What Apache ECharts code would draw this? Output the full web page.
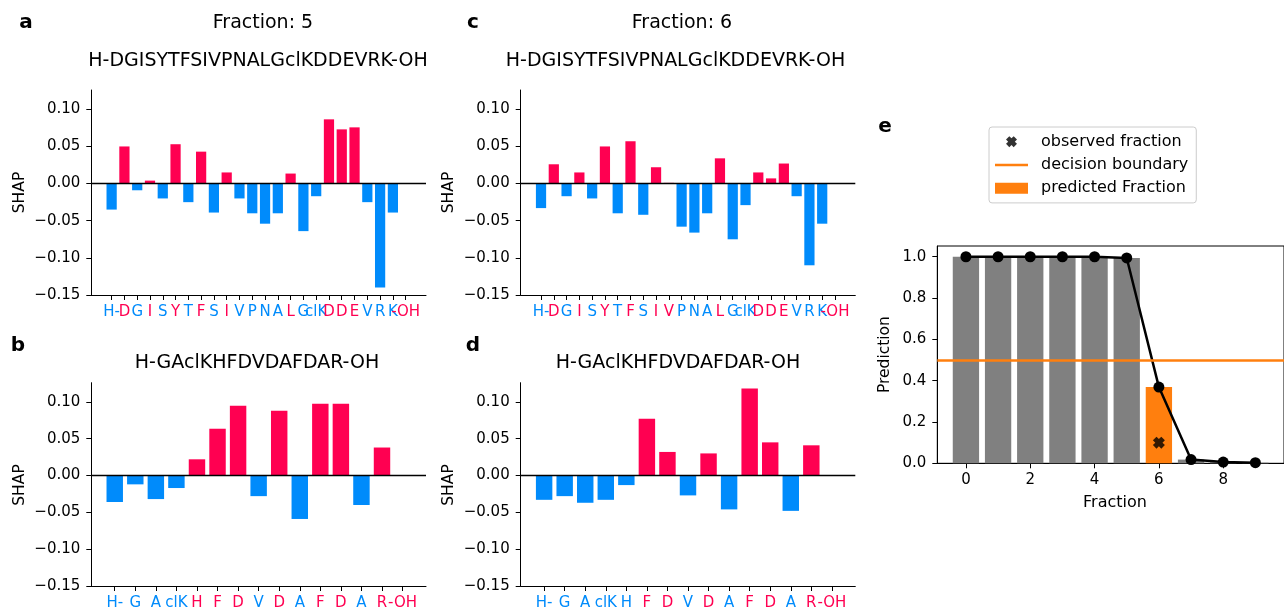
<!DOCTYPE html>
<html>
<head>
<meta charset="utf-8">
<script src="https://cdn.jsdelivr.net/npm/echarts@6/dist/echarts.min.js"></script>
<style>
html, body { margin: 0; padding: 0; background: #fff; }
#chart { width: 1284px; height: 611px; }
</style>
</head>
<body>
<div id="chart"></div>
<script>
// peptide 1: H-DGISYTFSIVPNALGclKDDEVRK-OH
const pep1Labels = ['H-', 'D', 'G', 'I', 'S', 'Y', 'T', 'F', 'S', 'I', 'V', 'P', 'N', 'A', 'L', 'G', 'clK', 'D', 'D', 'E', 'V', 'R', 'K', '-OH'];
const shapPep1Frac5 = [-0.035, 0.050, -0.009, 0.004, -0.020, 0.053, -0.025, 0.043, -0.039, 0.015, -0.020, -0.040, -0.054, -0.040, 0.0135, -0.064, -0.017, 0.0865, 0.073, 0.0757, -0.025, -0.140, -0.039, 0];
const shapPep1Frac6 = [-0.033, 0.026, -0.017, 0.015, -0.020, 0.050, -0.040, 0.057, -0.042, 0.022, 0.001, -0.058, -0.066, -0.040, 0.034, -0.075, -0.029, 0.015, 0.007, 0.027, -0.017, -0.110, -0.054, 0];
// peptide 2: H-GAclKHFDVDAFDAR-OH
const pep2Labels = ['H-', 'G', 'A', 'clK', 'H', 'F', 'D', 'V', 'D', 'A', 'F', 'D', 'A', 'R', '-OH'];
const shapPep2Frac5 = [-0.036, -0.012, -0.032, -0.017, 0.022, 0.0635, 0.0946, -0.028, 0.0878, -0.059, 0.0973, 0.0973, -0.040, 0.038, 0];
const shapPep2Frac6 = [-0.033, -0.028, -0.037, -0.033, -0.013, 0.077, 0.032, -0.027, 0.030, -0.046, 0.118, 0.045, -0.048, 0.041, 0];
const shapTicks = [-0.15, -0.10, -0.05, 0, 0.05, 0.10];
const shapMin = -0.15, shapMax = 0.126;

// panel e
const fractions = [0, 1, 2, 3, 4, 5, 6, 7, 8, 9];
const predictions = [1.0, 1.0, 1.0, 1.0, 1.0, 0.994, 0.369, 0.018, 0.006, 0.003];
const predictedFraction = 6;
const observedFraction = 6;
const observedMarkerY = 0.1;
const decisionBoundary = 0.5;
const fracTicks = [0, 2, 4, 6, 8];
const predTicks = [0, 0.2, 0.4, 0.6, 0.8, 1.0];

const RED = '#ff0051', BLUE = '#008bfb', GRAY = '#808080', ORANGE = '#ff7f0e';
const FONT = 'DejaVu Sans';
const XPATH = 'path://M3,0L5,2L7,0L10,3L8,5L10,7L7,10L5,8L3,10L0,7L2,5L0,3Z';

const chart = echarts.init(document.getElementById('chart'));

const panels = [
    { labels: pep1Labels, values: shapPep1Frac5, left: 91.3, top: 90, width: 334.7, height: 205 },
    { labels: pep2Labels, values: shapPep2Frac5, left: 91.3, top: 382.7, width: 334.7, height: 204.6 },
    { labels: pep1Labels, values: shapPep1Frac6, left: 520.7, top: 90, width: 334.6, height: 205 },
    { labels: pep2Labels, values: shapPep2Frac6, left: 520.7, top: 382.7, width: 334.6, height: 204.6 }
];

const minus = v => v.replace('-', '\u2212');
const grids = [], xAxes = [], yAxes = [], series = [];

// residue labels are split over two axes (even / odd positions) so that
// echarts does not drop the neighbours of the first and last labels
const labelAxis = (p, k, idx, showLine, xmin, xmax) => ({
    gridIndex: k, type: 'value', position: 'bottom', min: xmin, max: xmax,
    axisLine: { show: showLine, onZero: false, lineStyle: { color: '#000', width: 1 } },
    axisTick: { show: true, length: 5, customValues: idx, lineStyle: { color: '#000' } },
    splitLine: { show: false },
    axisLabel: {
        customValues: idx, margin: 10, showMinLabel: true, showMaxLabel: true, hideOverlap: false,
        formatter: v => {
            const i = Math.round(v);
            return '{' + (p.values[i] >= 0 ? 'r' : 'b') + '|' + p.labels[i] + '}';
        },
        rich: {
            r: { color: RED, fontSize: 15, fontFamily: FONT },
            b: { color: BLUE, fontSize: 15, fontFamily: FONT }
        }
    }
});

panels.forEach((p, k) => {
    const n = p.values.length;
    const xmin = -0.4 - 0.05 * (n - 0.2);
    const xmax = n - 0.6 + 0.05 * (n - 0.2);
    const even = p.values.map((v, i) => i).filter(i => i % 2 === 0);
    const odd = p.values.map((v, i) => i).filter(i => i % 2 === 1);
    grids.push({ left: p.left, top: p.top, width: p.width, height: p.height });
    xAxes.push(labelAxis(p, k, even, true, xmin, xmax));
    yAxes.push({
        gridIndex: k, type: 'value', min: shapMin, max: shapMax,
        axisLine: { show: true, onZero: false, lineStyle: { color: '#000', width: 1 } },
        axisTick: { show: true, length: 5, customValues: shapTicks, lineStyle: { color: '#000' } },
        splitLine: { show: false },
        axisLabel: {
            customValues: shapTicks, margin: 11, color: '#000', fontSize: 15, fontFamily: FONT,
            formatter: v => minus(v.toFixed(2))
        }
    });
    series.push({
        type: 'bar', xAxisIndex: k, yAxisIndex: k,
        data: p.values.map((v, i) => [i, v]),
        barWidth: p.width / (xmax - xmin) * 0.8,
        itemStyle: { color: q => (q.value[1] >= 0 ? RED : BLUE) },
        markLine: {
            silent: true, symbol: 'none', label: { show: false },
            lineStyle: { color: '#000', width: 1.3, type: 'solid' },
            data: [{ yAxis: 0 }]
        }
    });
    p.odd = odd; p.xmin = xmin; p.xmax = xmax;
});

// panel e
const ex = { left: 937.3, top: 246, width: 354.7, height: 217.3 };
const nf = fractions.length;
const exMin = -0.4 - 0.05 * (nf - 0.2), exMax = nf - 0.6 + 0.05 * (nf - 0.2);
grids.push(Object.assign({ show: true, borderColor: '#000', borderWidth: 1 }, ex));
xAxes.push({
    gridIndex: 4, type: 'value', min: exMin, max: exMax,
    axisLine: { show: true, onZero: false, lineStyle: { color: '#000' } },
    axisTick: { show: true, length: 5, customValues: fracTicks, lineStyle: { color: '#000' } },
    splitLine: { show: false },
    axisLabel: { customValues: fracTicks, margin: 9, color: '#000', fontSize: 15, fontFamily: FONT }
});
yAxes.push({
    gridIndex: 4, type: 'value', min: 0, max: 1.052,
    axisLine: { show: true, onZero: false, lineStyle: { color: '#000' } },
    axisTick: { show: true, length: 5, customValues: predTicks, lineStyle: { color: '#000' } },
    splitLine: { show: false },
    axisLabel: { customValues: predTicks, margin: 11, color: '#000', fontSize: 15, fontFamily: FONT, formatter: v => v.toFixed(1) }
});

// second label axes (odd positions), indices 5..8
panels.forEach((p, k) => {
    xAxes.push(labelAxis(p, k, p.odd, false, p.xmin, p.xmax));
});

series.push({
    name: 'predicted Fraction', type: 'bar', xAxisIndex: 4, yAxisIndex: 4, z: 2,
    color: ORANGE,
    barWidth: ex.width / (exMax - exMin) * 0.8,
    data: fractions.map((f, i) => ({ value: [f, predictions[i]], itemStyle: { color: f === predictedFraction ? ORANGE : GRAY } }))
});
series.push({
    name: 'decision boundary', type: 'line', xAxisIndex: 4, yAxisIndex: 4, z: 3,
    color: ORANGE, data: [],
    markLine: {
        silent: true, symbol: 'none', label: { show: false },
        lineStyle: { color: ORANGE, width: 2.5, type: 'solid' },
        data: [{ yAxis: decisionBoundary }]
    }
});
series.push({
    name: 'probability', type: 'line', xAxisIndex: 4, yAxisIndex: 4, z: 4,
    data: fractions.map((f, i) => [f, predictions[i]]),
    symbol: 'circle', symbolSize: 11, showAllSymbol: true,
    lineStyle: { color: '#000', width: 2.5 }, itemStyle: { color: '#000' }
});
series.push({
    name: 'observed fraction', type: 'scatter', xAxisIndex: 4, yAxisIndex: 4, z: 5,
    color: '#000', symbol: XPATH, symbolSize: 12,
    data: [[observedFraction, observedMarkerY]]
});

const txt = (text, x, y, size, opts) => Object.assign({
    type: 'text', x: x, y: y,
    style: { text: text, fontSize: size, fontFamily: FONT, fill: '#000', textAlign: 'center', textVerticalAlign: 'middle' }
}, opts || {});
const bold = (text, x, y) => {
    const t = txt(text, x, y, 20);
    t.style.fontWeight = 'bold';
    return t;
};
const rot = (text, x, y) => Object.assign(txt(text, x, y, 15.5), { rotation: Math.PI / 2 });

chart.setOption({
    animation: false,
    backgroundColor: '#fff',
    grid: grids,
    xAxis: xAxes,
    yAxis: yAxes,
    series: series,
    legend: {
        orient: 'vertical', left: 989, top: 127,
        backgroundColor: '#fff', borderColor: '#cccccc', borderWidth: 1, borderRadius: 3,
        padding: [6, 8, 6, 6], itemWidth: 33, itemHeight: 11, itemGap: 6,
        textStyle: { fontFamily: FONT, fontSize: 16, color: '#000', padding: [0, 0, 0, 8], lineHeight: 17.3 },
        data: [
            { name: 'observed fraction', icon: XPATH },
            { name: 'decision boundary', icon: 'path://M0,0H33V2.5H0Z' },
            { name: 'predicted Fraction', icon: 'rect', itemStyle: { color: ORANGE } }
        ]
    },
    graphic: [
        bold('a', 26, 23), bold('b', 18, 346), bold('c', 473, 23), bold('d', 473, 346), bold('e', 885, 127),
        txt('Fraction: 5', 263, 23, 19),
        txt('Fraction: 6', 682, 23, 19),
        txt('H-DGISYTFSIVPNALGclKDDEVRK-OH', 258, 61, 19),
        txt('H-DGISYTFSIVPNALGclKDDEVRK-OH', 675.5, 61, 19),
        txt('H-GAclKHFDVDAFDAR-OH', 257, 363, 19),
        txt('H-GAclKHFDVDAFDAR-OH', 678, 363, 19),
        rot('SHAP', 19.6, 192.5), rot('SHAP', 448.5, 192.5),
        rot('SHAP', 19.6, 485), rot('SHAP', 448.5, 485),
        rot('Prediction', 885, 354.6),
        txt('Fraction', 1115, 503, 16)
    ]
});
</script>
</body>
</html>
